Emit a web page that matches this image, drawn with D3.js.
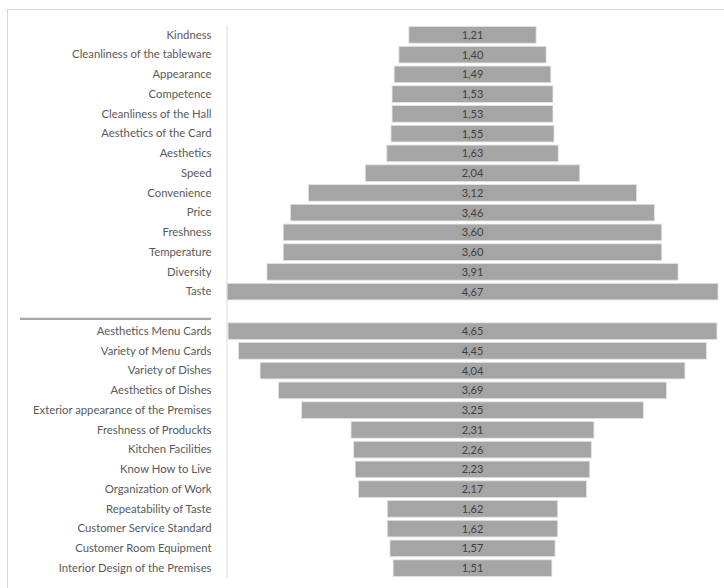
<!DOCTYPE html>
<html>
<head>
<meta charset="utf-8">
<script src="https://cdn.jsdelivr.net/npm/d3@7"></script>
<style>
  html, body { margin: 0; padding: 0; background: #fff; }
  svg { display: block; }
</style>
</head>
<body>
<svg id="chart" width="724" height="588"></svg>
<script>
// Service attributes (upper block) and premises/menu attributes (lower block)
const serviceLabels = ["Kindness", "Cleanliness of the tableware", "Appearance", "Competence",
  "Cleanliness of the Hall", "Aesthetics of the Card", "Aesthetics", "Speed", "Convenience",
  "Price", "Freshness", "Temperature", "Diversity", "Taste"];
const serviceValues = [1.21, 1.40, 1.49, 1.53, 1.53, 1.55, 1.63, 2.04, 3.12, 3.46, 3.60, 3.60, 3.91, 4.67];

const premisesLabels = ["Aesthetics Menu Cards", "Variety of Menu Cards", "Variety of Dishes",
  "Aesthetics of Dishes", "Exterior appearance of the Premises", "Freshness of Produckts",
  "Kitchen Facilities", "Know How to Live", "Organization of Work", "Repeatability of Taste",
  "Customer Service Standard", "Customer Room Equipment", "Interior Design of the Premises"];
const premisesValues = [4.65, 4.45, 4.04, 3.69, 3.25, 2.31, 2.26, 2.23, 2.17, 1.62, 1.62, 1.57, 1.51];

const SEP = "__separator__";

const rows = [
  ...serviceLabels.map((l, i) => ({ key: "s" + i, label: l, value: serviceValues[i] })),
  { key: SEP, label: "", value: null },
  ...premisesLabels.map((l, i) => ({ key: "p" + i, label: l, value: premisesValues[i] }))
];

const svg = d3.select("#chart");
const W = 724, H = 588;

// outer frame of the chart area
svg.append("rect")
  .attr("x", 7.5).attr("y", 9.5)
  .attr("width", W + 10).attr("height", H + 10)
  .attr("fill", "#fff").attr("stroke", "#d9d9d9").attr("stroke-width", 1);

const axisX = 226.5;
const center = 472.5;

const y = d3.scaleBand()
  .domain(rows.map(d => d.key))
  .range([25, 578])
  .paddingInner(0.16)
  .paddingOuter(0.08);

const maxVal = d3.max([...serviceValues, ...premisesValues]);
const w = d3.scaleLinear().domain([0, maxVal]).range([0, 491]);

const fmt = v => d3.format(".2f")(v).replace(".", ",");

const data = rows.filter(d => d.key !== SEP);

// centred (funnel) bars
svg.append("g").selectAll("rect")
  .data(data)
  .join("rect")
  .attr("x", d => center - w(d.value) / 2)
  .attr("y", d => y(d.key))
  .attr("width", d => w(d.value))
  .attr("height", y.bandwidth())
  .attr("fill", "#a5a5a5")
  .attr("stroke", "#e2e2e2")
  .attr("stroke-width", 0.8);

// value labels inside bars
svg.append("g").selectAll("text")
  .data(data)
  .join("text")
  .attr("x", center)
  .attr("y", d => y(d.key) + y.bandwidth() / 2)
  .attr("dy", "0.36em")
  .attr("text-anchor", "middle")
  .attr("font-family", "Lato, 'Open Sans', sans-serif")
  .attr("font-size", 11)
  .attr("fill", "#3f3f3f")
  .text(d => fmt(d.value));

// category axis on the left
const yAxis = d3.axisLeft(y)
  .tickSize(0)
  .tickPadding(15)
  .tickFormat(k => (rows.find(r => r.key === k) || {}).label);

const gAxis = svg.append("g")
  .attr("transform", `translate(${axisX},0)`)
  .call(yAxis);

gAxis.select(".domain").attr("stroke", "#d9d9d9").attr("stroke-width", 1);
gAxis.selectAll("text")
  .attr("font-family", "Lato, 'Open Sans', sans-serif")
  .attr("font-size", 11.3)
  .attr("fill", "#595959");

// divider between the two blocks
const sepY = y(SEP) + y.step() * 0.8;
svg.append("line")
  .attr("x1", 20).attr("x2", 211)
  .attr("y1", sepY).attr("y2", sepY)
  .attr("stroke", "#a6a6a6")
  .attr("stroke-width", 2.2);
</script>
</body>
</html>
